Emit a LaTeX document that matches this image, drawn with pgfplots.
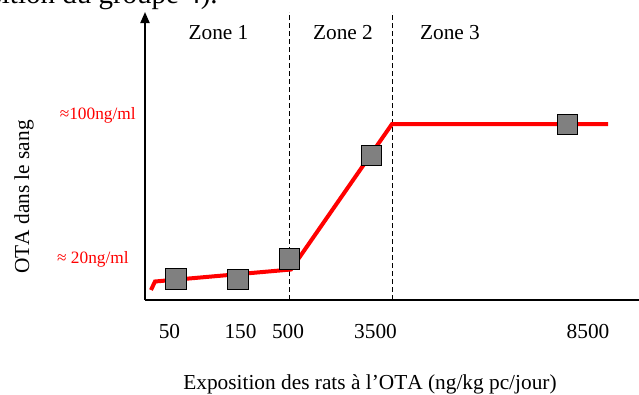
\documentclass[border=0pt]{standalone}
\usepackage{fontspec}
\setmainfont[Kerning=Off]{Liberation Serif}
\usepackage{pgfplots}
\pgfplotsset{compat=1.18}
\usetikzlibrary{arrows.meta}
\definecolor{redline}{RGB}{255,0,0}
\definecolor{boxgray}{RGB}{128,128,128}
\begin{document}
\begin{tikzpicture}
\begin{axis}[
  at={(108.75pt,70.5pt)}, anchor=south west,
  scale only axis, width=370.5pt, height=216pt,
  xmin=145, xmax=639, ymin=94, ymax=382,
  axis x line=bottom, axis y line=left,
  axis line style={line width=1.5pt},
  x axis line style={-},
  y axis line style={-{Triangle[length=8.25pt,width=6.75pt]}},
  xtick={169.5,240.5,288,375.5,588},
  xticklabels={50,150,500,3500,8500},
  xticklabel style={anchor=base, yshift=-28.5pt, font=\fontsize{16}{19}\selectfont},
  ytick=\empty,
  major tick length=0pt,
  tick style={draw=none},
  clip=false,
]
% zone separators
\addplot[black, line width=0.9pt, dash pattern=on 3.75pt off 2.25pt] coordinates {(289.3,94) (289.3,382)};
\addplot[black, line width=0.9pt, dash pattern=on 3.75pt off 2.25pt] coordinates {(392.3,94) (392.3,382)};
% red curve
\addplot[redline, line width=3pt] coordinates {(151,104) (155,112.5) (291,124.5) (392,270) (608,270)};
% measured groups
\addplot[only marks, mark=square*, mark size=7.7pt, mark options={fill=boxgray, draw=black, line width=0.75pt}]
  coordinates {(176,115) (238,114.3) (289.3,135.2) (371.7,238.5) (567.3,269.3)};
% texts
\node[anchor=base, font=\fontsize{16}{19}\selectfont] at (axis cs:218.5,355) {Zone 1};
\node[anchor=base, font=\fontsize{16}{19}\selectfont] at (axis cs:343,355) {Zone 2};
\node[anchor=base, font=\fontsize{16}{19}\selectfont] at (axis cs:450,355) {Zone 3};
\node[anchor=base east, inner sep=0pt, text=redline, font=\fontsize{13}{15}\selectfont] at (axis cs:136,275) {≈100ng/ml};
\node[anchor=base east, inner sep=0pt, text=redline, font=\fontsize{13}{15}\selectfont] at (axis cs:129,131) {≈ 20ng/ml};
\node[rotate=90, font=\fontsize{16}{19}\selectfont] at (axis cs:24,197) {OTA dans le sang};
\node[anchor=base, font=\fontsize{16}{19}\selectfont] at (axis cs:370,5) {Exposition des rats à l’OTA (ng/kg pc/jour)};
\node[anchor=base east, inner sep=0pt, font=\fontsize{21.75}{26}\selectfont] at (axis cs:218,390.5) {composition du groupe 4).};
\end{axis}
\pgfresetboundingbox
\useasboundingbox (0pt,0pt) rectangle (479.25pt,295.5pt);
\end{tikzpicture}
\end{document}
